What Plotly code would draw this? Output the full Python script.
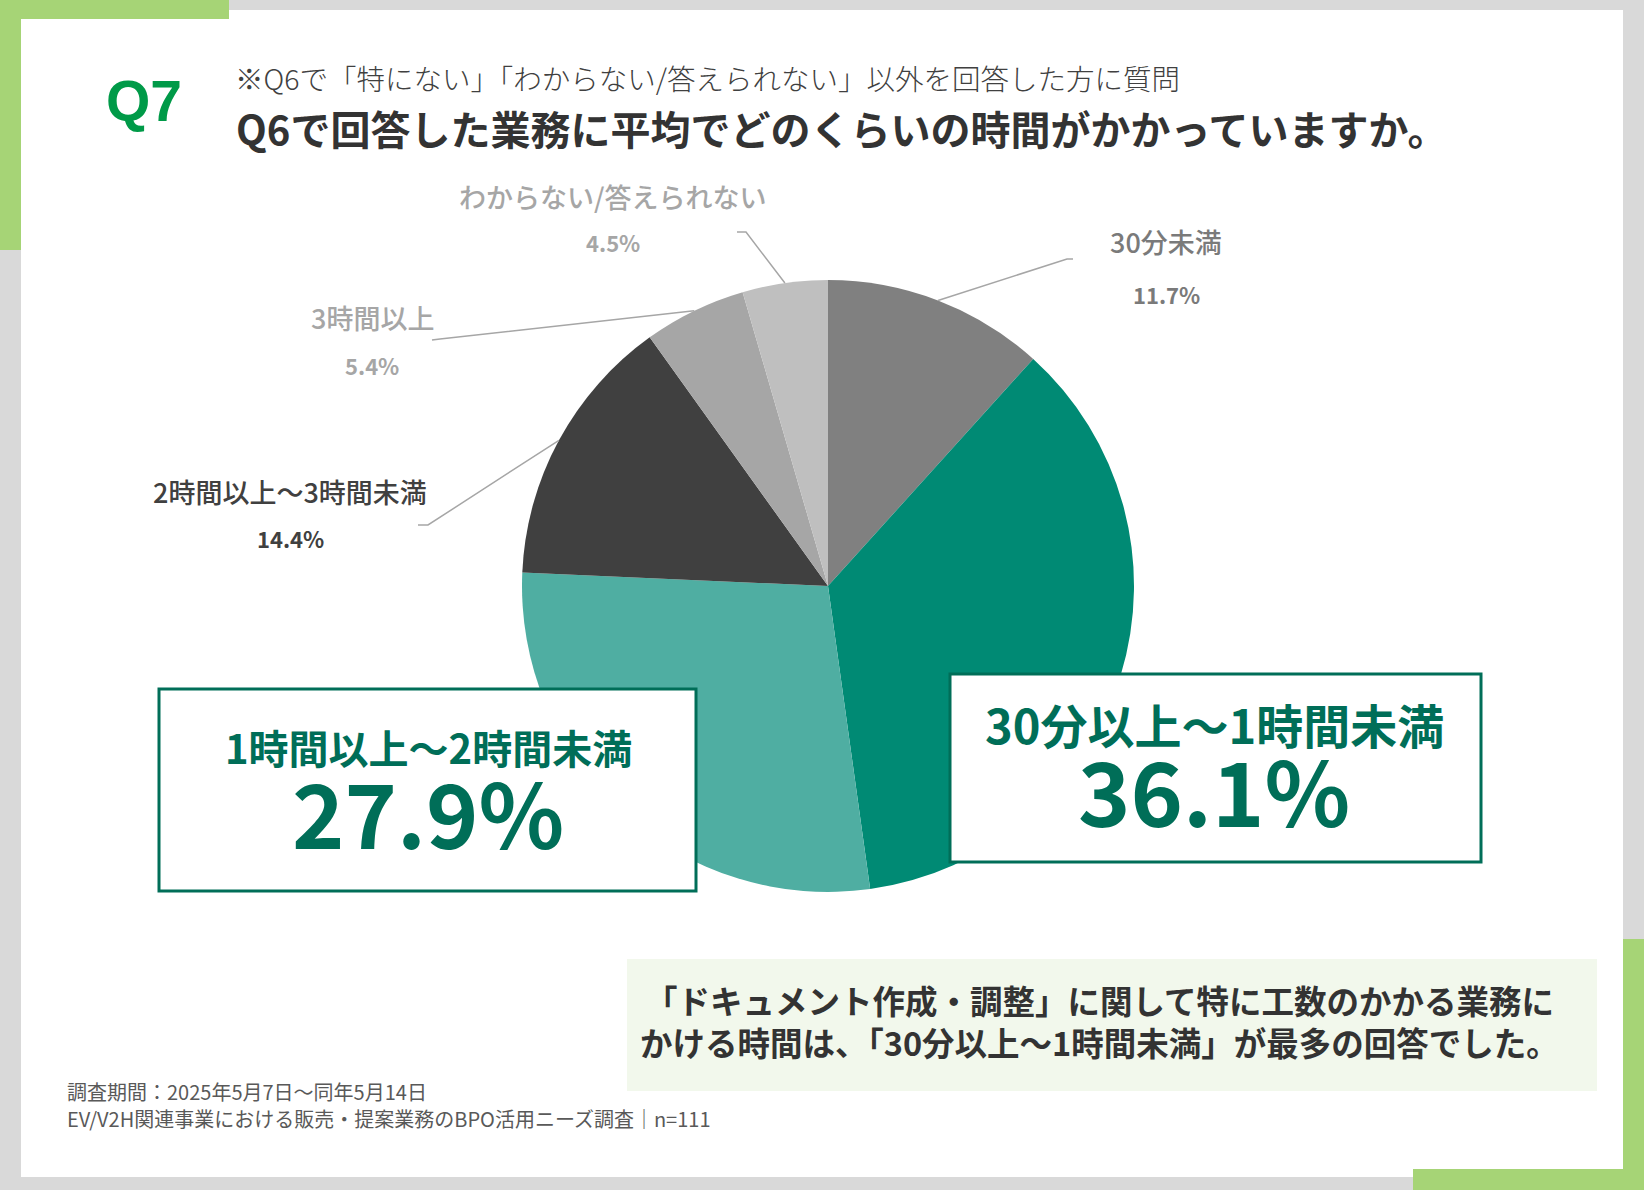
import math
import plotly.graph_objects as go

# ---------------- data ----------------
categories = ["30分未満", "30分以上～1時間未満", "1時間以上～2時間未満",
              "2時間以上～3時間未満", "3時間以上", "わからない/答えられない"]
values = [11.7, 36.1, 27.9, 14.4, 5.4, 4.5]
slice_colors = ["#808080", "#008a74", "#4faea2", "#404040", "#a6a6a6", "#bfbfbf"]

# outside labels (small ones) : index -> style
small_label_idx = [0, 3, 4, 5]
small_label_colors = {0: "#7a7a7a", 3: "#404040", 4: "#a6a6a6", 5: "#a6a6a6"}
# big highlighted labels
big_label_idx = [1, 2]

W, H = 1644, 1190
cx, cy, R = 828, 586, 306

def fx(x):
    return x / W

def fy(y):
    return 1 - y / H

fig = go.Figure()

fig.add_trace(go.Pie(
    labels=categories,
    values=values,
    sort=False,
    direction="clockwise",
    rotation=0,
    marker=dict(colors=slice_colors, line=dict(width=0)),
    textinfo="none",
    hoverinfo="label+percent",
    showlegend=False,
    domain=dict(x=[fx(cx - R), fx(cx + R)], y=[fy(cy + R), fy(cy - R)]),
))

shapes = []
# background card and decorative corners
shapes.append(dict(type="rect", xref="paper", yref="paper", layer="below",
                   x0=fx(21), x1=fx(1623), y0=fy(1177), y1=fy(10),
                   fillcolor="white", line=dict(width=0)))
for (x0, y0, x1, y1) in [(0, 0, 229, 19), (0, 0, 21, 250),
                         (1623, 939, 1644, 1190), (1413, 1169, 1644, 1190)]:
    shapes.append(dict(type="rect", xref="paper", yref="paper", layer="below",
                       x0=fx(x0), x1=fx(x1), y0=fy(y1), y1=fy(y0),
                       fillcolor="#a6d476", line=dict(width=0)))

# summary box
shapes.append(dict(type="rect", xref="paper", yref="paper", layer="below",
                   x0=fx(627), x1=fx(1597), y0=fy(1091), y1=fy(959),
                   fillcolor="#f2f8ec", line=dict(width=0)))

# highlighted label boxes (above pie)
box_rects = {2: (159, 689, 696, 891), 1: (950, 674, 1481, 862)}
for i, (x0, y0, x1, y1) in box_rects.items():
    shapes.append(dict(type="rect", xref="paper", yref="paper", layer="above",
                       x0=fx(x0), x1=fx(x1), y0=fy(y1), y1=fy(y0),
                       fillcolor="white", line=dict(color="#006e58", width=3)))

# leader lines: from label elbow to slice mid-point on the pie edge
total = sum(values)
cum = 0.0
mid_angle = []
for v in values:
    mid_angle.append((cum + v / 2) / total * 2 * math.pi)
    cum += v

leader_elbows = {0: [(1073, 259), (1067, 259)],
                 3: [(418, 525), (428, 525)],
                 4: [(432, 340), (440, 339)],
                 5: [(737, 232), (746, 232)]}
for i, pts in leader_elbows.items():
    a = mid_angle[i]
    ex = cx + R * math.sin(a)
    ey = cy - R * math.cos(a)
    path = "M {} {}".format(fx(pts[0][0]), fy(pts[0][1]))
    for (px_, py_) in pts[1:]:
        path += " L {} {}".format(fx(px_), fy(py_))
    path += " L {} {}".format(fx(ex), fy(ey))
    shapes.append(dict(type="path", xref="paper", yref="paper", layer="above",
                       path=path, line=dict(color="#a6a6a6", width=1.5)))

FONT = "Noto Sans CJK JP, Noto Sans, sans-serif"
ann = []

def add_text(text, x, y, size, color, weight="normal", xanchor="center", align="center"):
    ann.append(dict(text=text, x=fx(x), y=fy(y), xref="paper", yref="paper",
                    xanchor=xanchor, yanchor="middle", align=align, showarrow=False,
                    font=dict(family=FONT, size=size, color=color, weight=weight)))

# header
ann.append(dict(text="<b>Q7</b>", x=fx(144), y=fy(101), xref="paper", yref="paper",
                xanchor="center", yanchor="middle", showarrow=False,
                font=dict(family="Liberation Sans, Arial, sans-serif", size=57, color="#009a48")))
add_text("※Q6で「特にない」「わからない/答えられない」以外を回答した方に質問",
         233, 78, 28.5, "#404040", weight=300, xanchor="left", align="left")
add_text("Q6で回答した業務に平均でどのくらいの時間がかかっていますか。",
         234, 128, 40, "#333333", weight="bold", xanchor="left", align="left")

# small labels
small_label_pos = {0: (1166, 242, 294), 3: (290, 492, 538), 4: (372, 318, 365), 5: (613, 197, 242)}
for i in small_label_idx:
    x, yname, ypct = small_label_pos[i]
    add_text(categories[i], x, yname, 27, small_label_colors[i], weight=500)
    add_text("{:.1f}%".format(values[i]), x, ypct, 22, small_label_colors[i], weight="bold")

# big labels
big_label_pos = {2: (428, 747, 40, 810), 1: (1214, 724, 47, 788)}
for i in big_label_idx:
    x, yname, nsize, ypct = big_label_pos[i]
    add_text(categories[i], x, yname, nsize, "#006e58", weight="bold")
    add_text("{:.1f}%".format(values[i]), x, ypct, 89, "#006e58", weight="bold")

# summary text
add_text("「ドキュメント作成・調整」に関して特に工数のかかる業務に<br>"
         "かける時間は、「30分以上～1時間未満」が最多の回答でした。",
         1099, 1021, 32.5, "#333333", weight="bold")

# footer
add_text("調査期間：2025年5月7日～同年5月14日", 65, 1091, 20, "#595959",
         xanchor="left", align="left")
add_text("EV/V2H関連事業における販売・提案業務のBPO活用ニーズ調査｜n=111", 65, 1118, 20,
         "#595959", xanchor="left", align="left")

fig.update_layout(
    width=W, height=H,
    margin=dict(l=0, r=0, t=0, b=0),
    paper_bgcolor="#d9d9d9",
    plot_bgcolor="#d9d9d9",
    shapes=shapes,
    annotations=ann,
    showlegend=False,
)

fig.write_html("out.html",
               config={"displayModeBar": False},
               post_script="document.body.style.margin='0';document.body.style.overflow='hidden';")
